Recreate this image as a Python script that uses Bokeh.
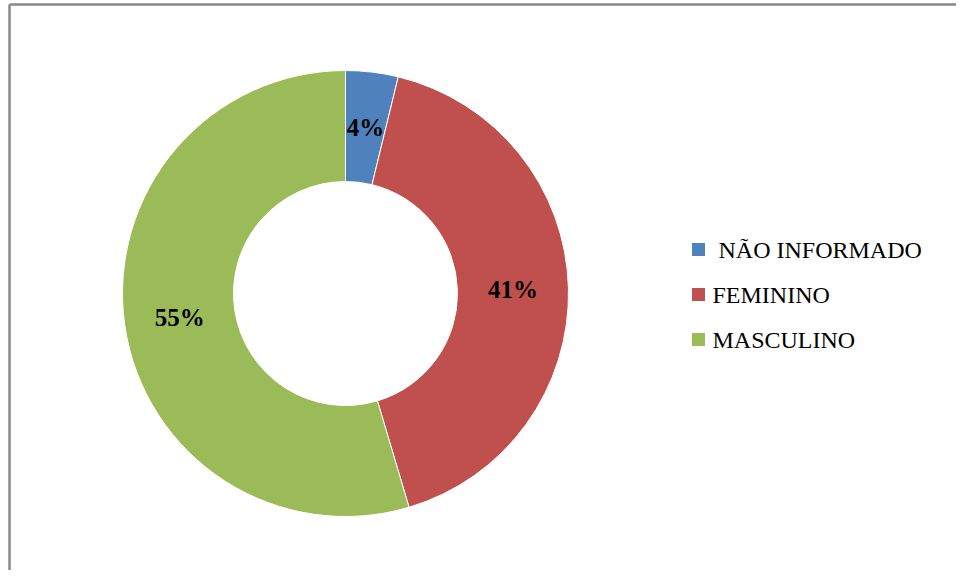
import math
from bokeh.plotting import figure
from bokeh.models import Range1d, ColumnDataSource
from bokeh.core.properties import value
from bokeh.embed import file_html
from bokeh.resources import INLINE

# ---- data ----
categories = ["NÃO INFORMADO", "FEMININO", "MASCULINO"]
shares = [3.8, 41.6, 54.6]
pct_labels = ["4%", "41%", "55%"]
colors = ["#4F81BD", "#C0504D", "#9BBB59"]

# ---- layout ----
W, H = 956, 570
cx, cy = 345, 277
r_in, r_out = 112, 223

p = figure(width=W, height=H, output_backend="svg", toolbar_location=None,
           x_range=Range1d(0, W), y_range=Range1d(0, H), min_border=0)
p.axis.visible = False
p.grid.visible = False
p.outline_line_color = None
p.background_fill_color = "white"
p.border_fill_color = "white"

total = sum(shares)
starts, ends, lx, ly = [], [], [], []
cum = 0.0
for s in shares:
    a0 = math.pi / 2 - 2 * math.pi * cum / total
    cum += s
    a1 = math.pi / 2 - 2 * math.pi * cum / total
    starts.append(a0)
    ends.append(a1)
    mid = (a0 + a1) / 2
    rm = (r_in + r_out) / 2
    lx.append(cx + rm * math.cos(mid))
    ly.append(cy + rm * math.sin(mid))

src = ColumnDataSource(dict(cat=categories, start=starts, end=ends, color=colors,
                            lx=lx, ly=ly, lab=pct_labels))

p.annular_wedge(x=cx, y=cy, inner_radius=r_in, outer_radius=r_out,
                start_angle="start", end_angle="end", direction="clock",
                fill_color="color", line_color="white", line_width=1, source=src)

p.text(x="lx", y="ly", text="lab", source=src, text_align="center",
       text_baseline="middle", text_font=value("Liberation Serif"),
       text_font_style="bold", text_font_size="25px", text_color="black")

# legend (manual)
leg_x = 698
leg_y0 = 321
leg_step = 45
leg = ColumnDataSource(dict(
    x=[leg_x] * len(categories),
    y=[leg_y0 - i * leg_step for i in range(len(categories))],
    tx=[leg_x + 20, leg_x + 14, leg_x + 14],
    cat=categories, color=colors))
p.rect(x="x", y="y", width=13, height=13, fill_color="color", line_color=None, source=leg)
p.text(x="tx", y="y", text="cat", source=leg, text_baseline="middle",
       text_font=value("Liberation Serif"), text_font_size="24px", text_color="black")

# frame (left and top border)
p.segment(x0=[9, 9], y0=[0, 566], x1=[9, W], y1=[566, 566],
          line_color="#888888", line_width=2.5)

open("out.html", "w").write(file_html(p, INLINE))
